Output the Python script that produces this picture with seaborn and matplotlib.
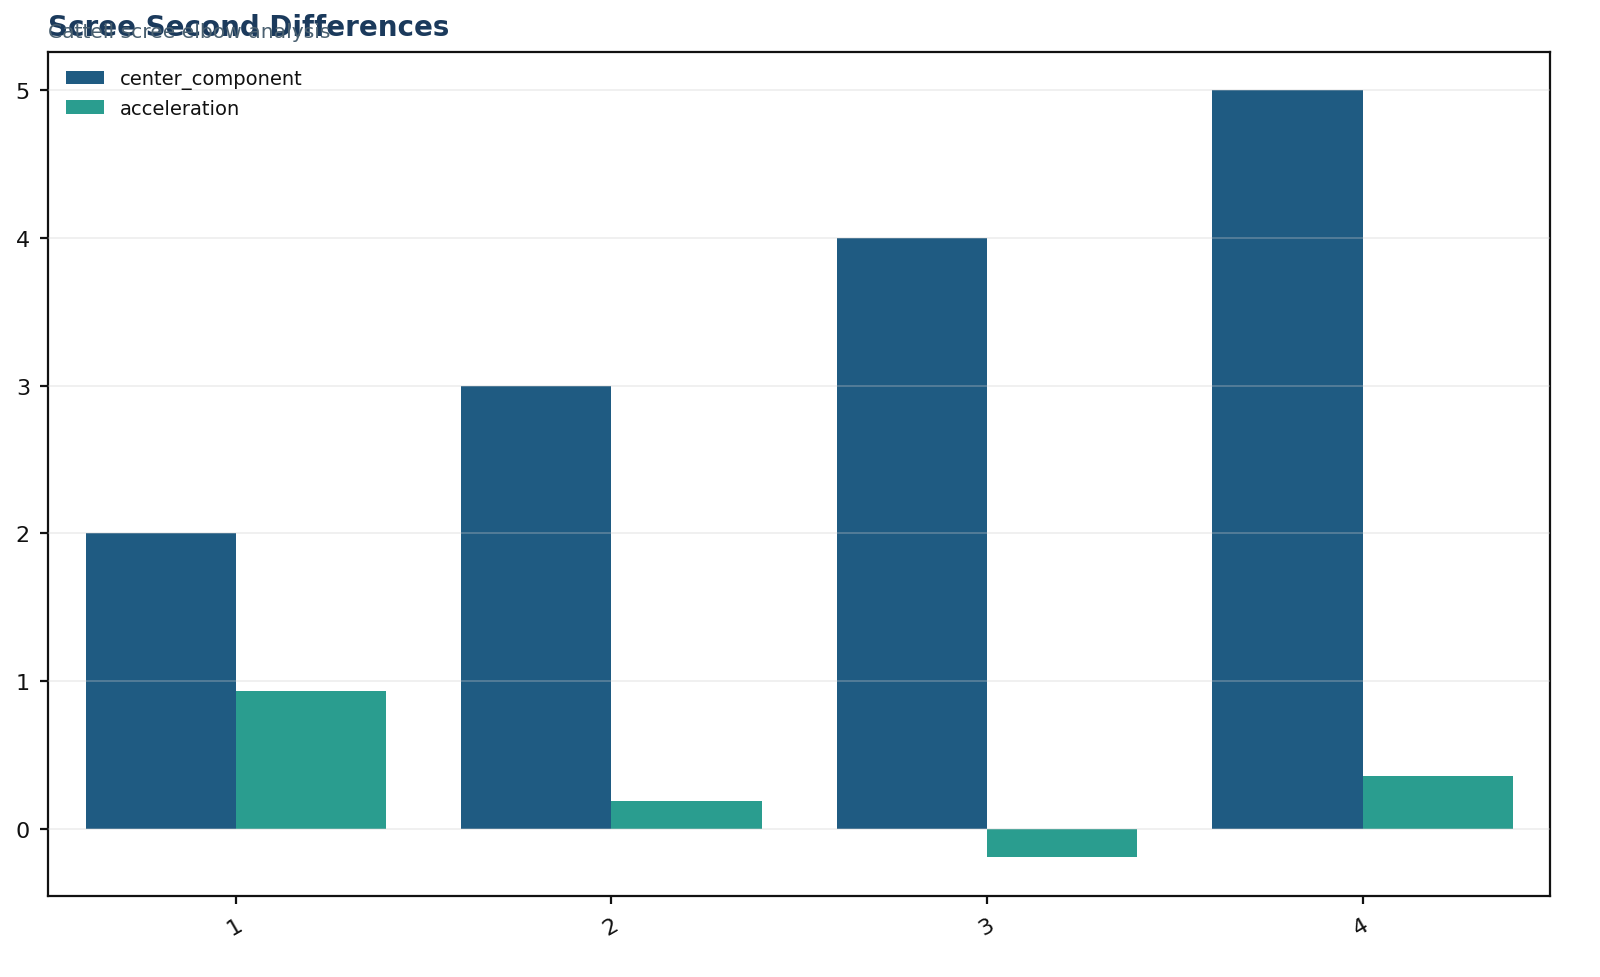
import pandas as pd
import matplotlib
matplotlib.use('Agg')
import matplotlib.pyplot as plt
import seaborn as sns

# Scree second differences data
components = ['1', '2', '3', '4']
center_component = [2, 3, 4, 5]
acceleration = [0.934, 0.183, -0.196, 0.359]

df = pd.DataFrame({
    'component': components,
    'center_component': center_component,
    'acceleration': acceleration,
})
df_melted = df.melt(id_vars='component', value_vars=['center_component', 'acceleration'])

sns.set_style('white')
palette = {'center_component': '#1f5b82', 'acceleration': '#2a9d8f'}

fig, ax = plt.subplots(figsize=(8, 4.89), dpi=200)
fig.subplots_adjust(left=0.03, right=0.969, bottom=0.083, top=0.946)

sns.barplot(x='component', y='value', hue='variable', data=df_melted,
            palette=palette, saturation=1, linewidth=0, ax=ax)

ax.set_xlabel('')
ax.set_ylabel('')
ax.grid(axis='y', color='#cccccc', alpha=0.35, linewidth=0.6)
ax.set_axisbelow(False)
for s in ax.spines.values():
    s.set_color('#111111')
    s.set_linewidth(0.8)

ax.tick_params(axis='both', labelsize=8, length=3, width=0.8, color='#111111',
               labelcolor='#111111', left=True, bottom=True)
plt.xticks(rotation=30, ha='right', rotation_mode='anchor')

leg = ax.legend(loc='upper left', frameon=False, fontsize=7, title=None)
for t in leg.get_texts():
    t.set_color('#111111')

fig.text(0.03, 0.957, 'Scree Second Differences', fontsize=10, fontweight='bold',
         color='#1b3a5c', ha='left', va='bottom')
fig.text(0.03, 0.957, 'Cattell scree elbow analysis', fontsize=7.3,
         color='#4a6070', ha='left', va='bottom')

plt.savefig('out.png', dpi=200)
